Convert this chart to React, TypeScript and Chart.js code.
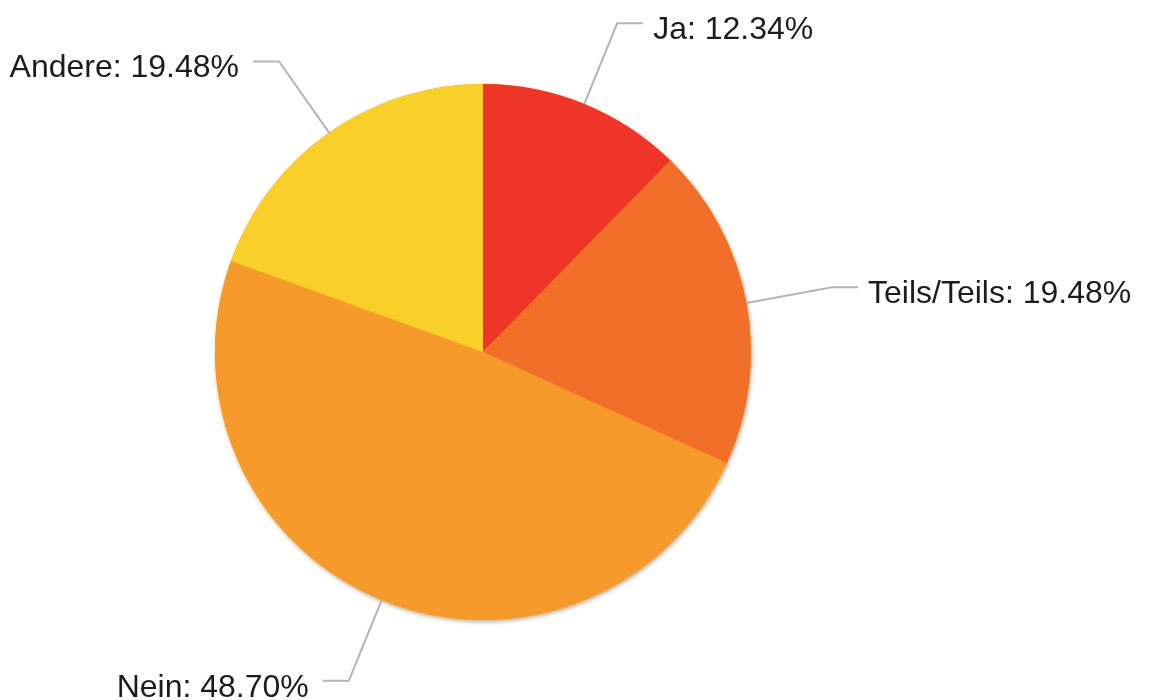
import React, { useEffect, useRef } from "react";
import { Chart, registerables } from "chart.js";

Chart.register(...registerables);

const categories = ["Ja", "Teils/Teils", "Nein", "Andere"];
const values = [12.34, 19.48, 48.7, 19.48];
const colors = ["#EE3527", "#F26F2A", "#F79A2C", "#F9D02A"];

const calloutPlugin = {
  id: "callouts",
  beforeDatasetsDraw(chart: any) {
    const meta = chart.getDatasetMeta(0);
    const arc = meta.data[0];
    if (!arc) return;
    const ctx = chart.ctx;
    ctx.save();
    ctx.shadowColor = "rgba(120,70,0,0.45)";
    ctx.shadowBlur = 4;
    ctx.shadowOffsetX = 1;
    ctx.shadowOffsetY = 2;
    ctx.fillStyle = "#F79A2C";
    ctx.beginPath();
    ctx.arc(arc.x, arc.y, arc.outerRadius, 0, Math.PI * 2);
    ctx.fill();
    ctx.restore();
  },
  afterDatasetsDraw(chart: any) {
    const meta = chart.getDatasetMeta(0);
    const ctx = chart.ctx;
    const labels = chart.data.labels as string[];
    const data = chart.data.datasets[0].data as number[];
    ctx.save();
    ctx.font = '32px "Liberation Sans", Arial, sans-serif';
    ctx.fillStyle = "#1c1c1c";
    ctx.textBaseline = "alphabetic";
    meta.data.forEach((el: any, i: number) => {
      const mid = (el.startAngle + el.endAngle) / 2;
      const r = el.outerRadius;
      const cos = Math.cos(mid);
      const sin = Math.sin(mid);
      const x0 = el.x + cos * r;
      const y0 = el.y + sin * r;
      const ext = 87;
      const x1 = x0 + cos * ext;
      const y1 = y0 + sin * ext;
      const right = cos >= 0;
      const x2 = x1 + (right ? 26 : -26);
      ctx.strokeStyle = "#B4B4B4";
      ctx.lineWidth = 2;
      ctx.beginPath();
      ctx.moveTo(x0, y0);
      ctx.lineTo(x1, y1);
      ctx.lineTo(x2, y1);
      ctx.stroke();
      const text = `${labels[i]}: ${data[i].toFixed(2)}%`;
      ctx.textAlign = right ? "left" : "right";
      ctx.fillText(text, x2 + (right ? 10 : -14), y1 + 16);
    });
    ctx.restore();
  },
};

export default function App() {
  const ref = useRef<HTMLCanvasElement>(null);
  useEffect(() => {
    if (!ref.current) return;
    const chart = new Chart(ref.current, {
      type: "pie",
      data: {
        labels: categories,
        datasets: [
          {
            data: values,
            backgroundColor: colors,
            borderWidth: 0,
            hoverOffset: 0,
          },
        ],
      },
      options: {
        responsive: false,
        animation: false,
        radius: 268,
        layout: { padding: { left: 0, right: 195, top: 84, bottom: 80 } },
        plugins: {
          legend: { display: false },
          tooltip: { enabled: false },
        },
      },
      plugins: [calloutPlugin],
    });
    return () => chart.destroy();
  }, []);
  return (
    <div style={{ position: "fixed", left: 0, top: 0, width: 1161, height: 700, background: "#fff" }}>
      <canvas ref={ref} width={1161} height={700} />
    </div>
  );
}
